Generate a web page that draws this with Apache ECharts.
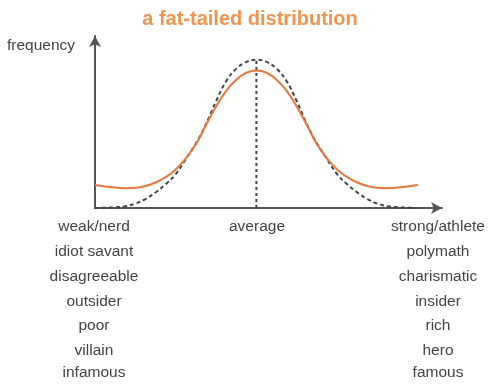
<!DOCTYPE html>
<html>
<head>
<meta charset="utf-8">
<script src="https://cdn.jsdelivr.net/npm/echarts@6/dist/echarts.min.js"></script>
<style>
html,body{margin:0;padding:0;background:#fff;}
#c{width:500px;height:391px;}
</style>
</head>
<body>
<div id="c"></div>
<script>
// ---- data ----
var xs = [-4, -3.75, -3.5, -3.25, -3, -2.75, -2.5, -2.25, -2, -1.75, -1.5, -1.25, -1, -0.75, -0.5, -0.25, 0,
          0.25, 0.5, 0.75, 1, 1.25, 1.5, 1.75, 2, 2.25, 2.5, 2.75, 3, 3.25, 3.5, 3.75, 4];
var fatTailed = [0.155, 0.145, 0.138, 0.134, 0.136, 0.148, 0.172, 0.208, 0.26, 0.335, 0.43, 0.56, 0.685, 0.79, 0.865, 0.912, 0.928,
                 0.912, 0.865, 0.79, 0.685, 0.56, 0.43, 0.335, 0.26, 0.208, 0.172, 0.148, 0.136, 0.134, 0.138, 0.145, 0.155];
var normal = [0.0, 0.002, 0.005, 0.012, 0.03, 0.06, 0.105, 0.16, 0.228, 0.33, 0.435, 0.565, 0.72, 0.855, 0.94, 0.985, 1.0,
              0.985, 0.94, 0.855, 0.72, 0.565, 0.435, 0.33, 0.228, 0.16, 0.105, 0.06, 0.03, 0.012, 0.005, 0.002, 0.0];
var averageX = 0;
var titleText = 'a fat-tailed distribution';
var yAxisName = 'frequency';
var leftLabels = ['weak/nerd', 'idiot savant', 'disagreeable', 'outsider', 'poor', 'villain', 'infamous'];
var centerLabels = ['average'];
var rightLabels = ['strong/athlete', 'polymath', 'charismatic', 'insider', 'rich', 'hero', 'famous'];

function pairs(vals) { return xs.map(function (x, i) { return [x, vals[i]]; }); }

var font = '"Liberation Sans", Arial, Helvetica, sans-serif';
var textColor = '#444';
var rowY = [227, 252, 277, 302, 326, 351, 373];

var graphics = [];
function addCol(list, x) {
  list.forEach(function (t, i) {
    graphics.push({ type: 'text', x: x, y: rowY[i], style: { text: t, fill: textColor, font: '15.5px ' + font, textAlign: 'center', textVerticalAlign: 'middle' } });
  });
}
addCol(leftLabels, 94);
addCol(centerLabels, 257);
addCol(rightLabels, 438);
graphics.push({ type: 'text', x: 7, y: 46, style: { text: yAxisName, fill: textColor, font: '15.5px ' + font, textAlign: 'left', textVerticalAlign: 'middle' } });

var chart = echarts.init(document.getElementById('c'), null, { renderer: 'canvas' });
chart.setOption({
  animation: false,
  backgroundColor: '#fff',
  title: {
    text: titleText, left: 'center', top: 4,
    textStyle: { color: '#EF9550', fontSize: 20, fontWeight: 'bold', fontFamily: font }
  },
  grid: { left: 95, right: 58, top: 36, bottom: 183 },
  xAxis: {
    type: 'value', min: -4, max: 4.6,
    axisLine: { show: true, onZero: false, symbol: ['none', 'arrow'], symbolSize: [9, 11], lineStyle: { color: '#555', width: 2 } },
    axisTick: { show: false }, axisLabel: { show: false }, splitLine: { show: false }
  },
  yAxis: {
    type: 'value', min: 0, max: 1.16,
    axisLine: { show: true, onZero: false, symbol: ['none', 'arrow'], symbolSize: [9, 11], lineStyle: { color: '#555', width: 2 } },
    axisTick: { show: false }, axisLabel: { show: false }, splitLine: { show: false }
  },
  series: [
    {
      name: 'normal', type: 'line', smooth: 0.4, showSymbol: false, data: pairs(normal),
      lineStyle: { color: '#444', width: 2, type: [4, 3] }, z: 2
    },
    {
      name: 'average', type: 'line', showSymbol: false,
      data: [[averageX, 0], [averageX, normal[xs.indexOf(averageX)]]],
      lineStyle: { color: '#444', width: 2, type: [3, 3] }, z: 2
    },
    {
      name: 'fat-tailed', type: 'line', smooth: 0.4, showSymbol: false, data: pairs(fatTailed),
      lineStyle: { color: '#E8773C', width: 2 }, z: 3
    }
  ],
  graphic: graphics
});
</script>
</body>
</html>
